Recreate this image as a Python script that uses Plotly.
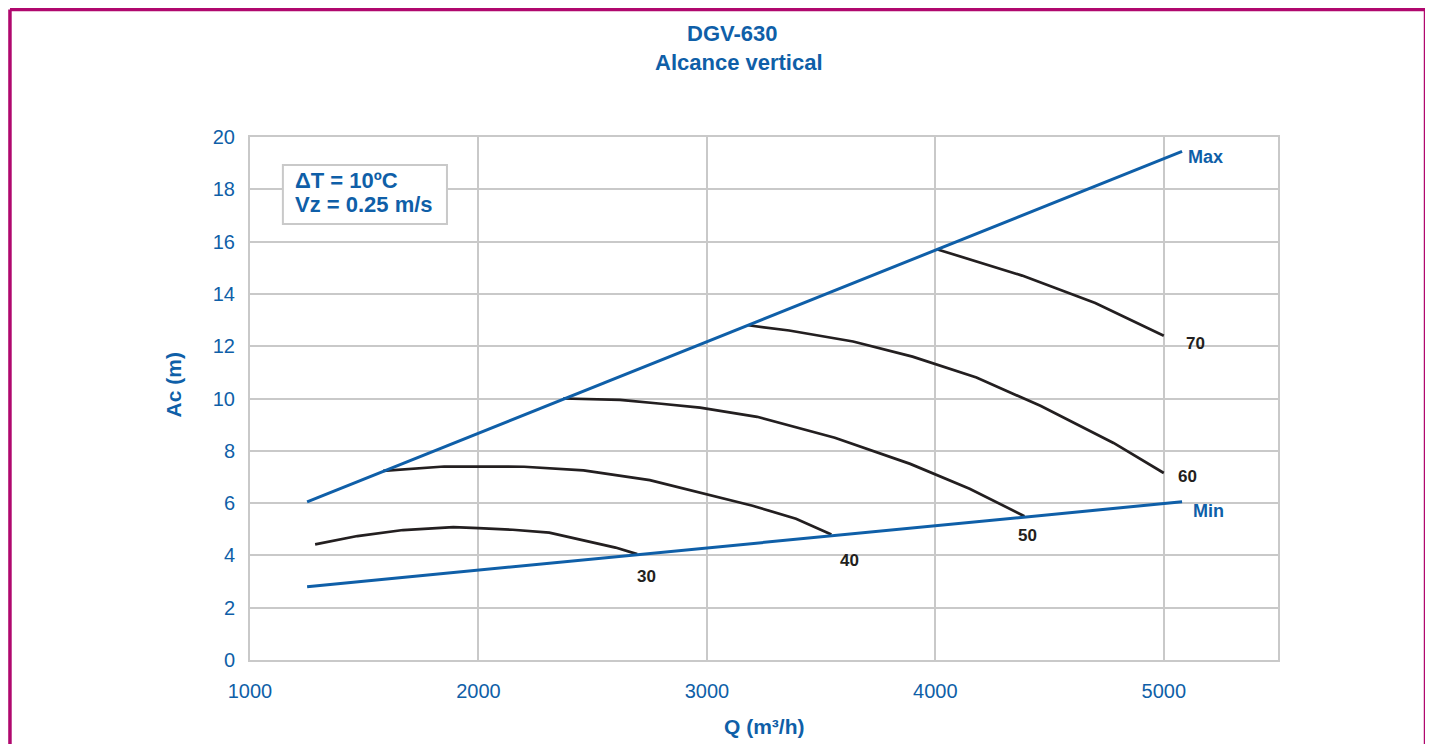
import plotly.graph_objects as go

# ---- data ----
max_q = [1250, 5080]
max_ac = [6.05, 19.45]
min_q = [1250, 5080]
min_ac = [2.8, 6.05]

c30_q = [1285, 1470, 1670, 1890, 2000, 2150, 2310, 2500, 2600, 2695]
c30_ac = [4.42, 4.74, 4.97, 5.08, 5.04, 4.98, 4.87, 4.5, 4.3, 4.05]

c40_q = [1583, 1850, 2200, 2460, 2750, 2970, 3200, 3390, 3545]
c40_ac = [7.23, 7.4, 7.39, 7.25, 6.88, 6.4, 5.9, 5.4, 4.8]

c50_q = [2371, 2620, 2800, 2970, 3220, 3560, 3890, 4150, 4390]
c50_ac = [10.0, 9.95, 9.8, 9.65, 9.3, 8.5, 7.5, 6.55, 5.5]

c60_q = [3181, 3360, 3640, 3900, 4180, 4460, 4780, 5000]
c60_ac = [12.8, 12.6, 12.18, 11.6, 10.8, 9.72, 8.3, 7.15]

c70_q = [4010, 4380, 4700, 5000]
c70_ac = [15.7, 14.7, 13.65, 12.4]

curve_names = ["30", "40", "50", "60", "70"]
label_q = [2735, 3623, 4403, 5105, 5140]
label_ac = [3.2, 3.82, 4.78, 7.0, 12.1]

limit_names = ["Max", "Min"]
limit_label_q = [5183, 5196]
limit_label_ac = [19.23, 5.7]

x_ticks = [1000, 2000, 3000, 4000, 5000]
y_ticks = [0, 2, 4, 6, 8, 10, 12, 14, 16, 18, 20]

title_lines = ["DGV-630", "Alcance vertical"]
info_text = ["ΔT = 10ºC", "Vz = 0.25 m/s"]

BLUE = "#0f5fa8"
BLACK = "#231f20"
GRID = "#c9c9c9"
MAGENTA = "#b0086e"
FONT = "Liberation Sans, Arial, sans-serif"

fig = go.Figure()

for q, a in [(c30_q, c30_ac), (c40_q, c40_ac), (c50_q, c50_ac),
             (c60_q, c60_ac), (c70_q, c70_ac)]:
    fig.add_trace(go.Scatter(x=q, y=a, mode="lines",
                             line=dict(color=BLACK, width=2.7),
                             showlegend=False, hoverinfo="skip"))

fig.add_trace(go.Scatter(x=max_q, y=max_ac, mode="lines",
                         line=dict(color=BLUE, width=3), showlegend=False))
fig.add_trace(go.Scatter(x=min_q, y=min_ac, mode="lines",
                         line=dict(color=BLUE, width=3), showlegend=False))

annotations = []
for n, q, a in zip(curve_names, label_q, label_ac):
    annotations.append(dict(x=q, y=a, xref="x", yref="y", text="<b>" + n + "</b>",
                            showarrow=False, font=dict(family=FONT, size=17, color=BLACK)))
for n, q, a in zip(limit_names, limit_label_q, limit_label_ac):
    annotations.append(dict(x=q, y=a, xref="x", yref="y", text="<b>" + n + "</b>",
                            showarrow=False, font=dict(family=FONT, size=18, color=BLUE)))

# titles
annotations.append(dict(x=0.4689, y=1.198, xref="paper", yref="paper",
                        xanchor="center", yanchor="middle",
                        text="<b>" + title_lines[0] + "</b>", showarrow=False,
                        font=dict(family=FONT, size=22, color=BLUE)))
annotations.append(dict(x=0.4757, y=1.1415, xref="paper", yref="paper",
                        xanchor="center", yanchor="middle",
                        text="<b>" + title_lines[1] + "</b>", showarrow=False,
                        font=dict(family=FONT, size=22, color=BLUE)))
# axis titles
annotations.append(dict(x=0.5, y=-0.1281, xref="paper", yref="paper",
                        xanchor="center", yanchor="middle",
                        text="<b>Q (m³/h)</b>", showarrow=False,
                        font=dict(family=FONT, size=21, color=BLUE)))
annotations.append(dict(x=-0.0749, y=0.525, xref="paper", yref="paper",
                        xanchor="center", yanchor="middle",
                        text="<b>Ac (m)</b>", showarrow=False, textangle=-90,
                        font=dict(family=FONT, size=21, color=BLUE)))
# info box text
annotations.append(dict(x=0.0418, y=0.9170, xref="paper", yref="paper",
                        xanchor="left", yanchor="middle", align="left",
                        text="<b>" + info_text[0] + "</b>", showarrow=False,
                        font=dict(family=FONT, size=22, color=BLUE)))
annotations.append(dict(x=0.0418, y=0.8705, xref="paper", yref="paper",
                        xanchor="left", yanchor="middle", align="left",
                        text="<b>" + info_text[1] + "</b>", showarrow=False,
                        font=dict(family=FONT, size=22, color=BLUE)))

shapes = [
    # info box frame
    dict(type="rect", xref="paper", yref="paper", x0=0.032, x1=0.1916,
         y0=0.8337, y1=0.9465, fillcolor="white", line=dict(color=GRID, width=2),
         layer="above"),
    # page frame
    dict(type="line", xref="paper", yref="paper", x0=-0.2335, x1=1.1435, y0=1.2438, y1=1.2438,
         line=dict(color=MAGENTA, width=3.5)),
    dict(type="line", xref="paper", yref="paper", x0=-0.2335, x1=-0.2335, y0=1.2438, y1=-0.3,
         line=dict(color=MAGENTA, width=3.5)),
    dict(type="line", xref="paper", yref="paper", x0=1.1435, x1=1.1435, y0=1.2438, y1=-0.3,
         line=dict(color=MAGENTA, width=3.5)),
]

fig.update_layout(
    width=1425, height=736,
    margin=dict(l=242, r=155, t=129, b=84),
    paper_bgcolor="white", plot_bgcolor="white",
    annotations=annotations, shapes=shapes,
    font=dict(family=FONT, color=BLUE),
)
fig.update_xaxes(range=[1000, 5500], tickvals=x_ticks, showgrid=True,
                 gridcolor=GRID, gridwidth=2, showline=True, linecolor=GRID,
                 linewidth=2, mirror=True, zeroline=False,
                 tickfont=dict(family=FONT, size=20, color=BLUE),
                 ticklabelstandoff=12)
fig.update_yaxes(range=[0, 20], tickvals=y_ticks, showgrid=True,
                 gridcolor=GRID, gridwidth=2, showline=True, linecolor=GRID,
                 linewidth=2, mirror=True, zeroline=False,
                 tickfont=dict(family=FONT, size=20, color=BLUE),
                 ticklabelstandoff=9)

fig.write_html("out.html")
